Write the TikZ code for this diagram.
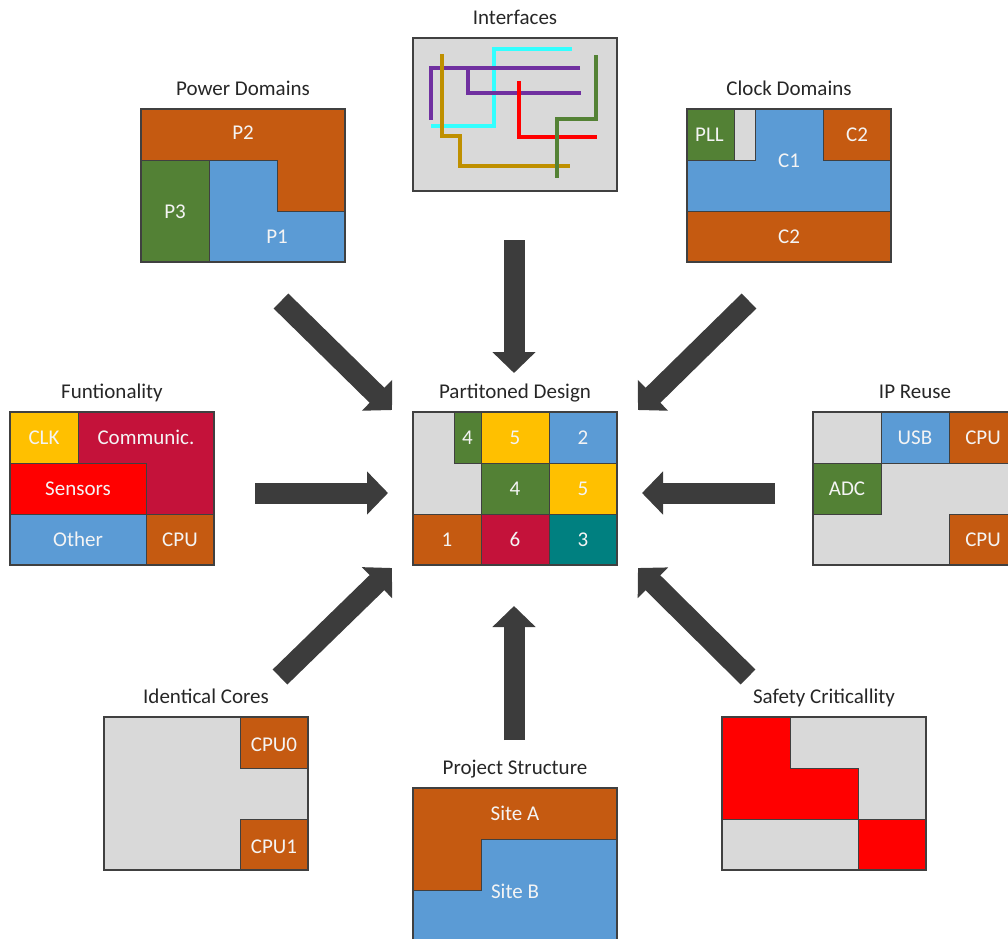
\documentclass[tikz,border=0pt]{standalone}
\usepackage{fontspec}
\setmainfont{Carlito}
\usetikzlibrary{arrows.meta}

\definecolor{cgray}{HTML}{D9D9D9}
\definecolor{corange}{HTML}{C55A11}
\definecolor{cblue}{HTML}{5B9BD5}
\definecolor{cgreen}{HTML}{538135}
\definecolor{cyellow}{HTML}{FFC000}
\definecolor{ccrimson}{HTML}{C4123A}
\definecolor{cred}{HTML}{FF0000}
\definecolor{cteal}{HTML}{008080}
\definecolor{ccyan}{HTML}{33FFFF}
\definecolor{cpurple}{HTML}{7030A0}
\definecolor{cgold}{HTML}{BF9000}
\definecolor{cdgreen}{HTML}{548235}
\definecolor{arrowgray}{HTML}{3C3C3C}
\definecolor{edgegray}{HTML}{404040}
\definecolor{titlecol}{HTML}{262626}
\definecolor{tagcol}{HTML}{F4F4F4}

\tikzset{
  region/.style={draw=edgegray, line width=0.6pt},
  panel/.style={draw=edgegray, line width=1.2pt, minimum width=204pt,
    minimum height=153pt, inner sep=0pt},
  title/.style={font=\fontsize{21}{25}\selectfont, text=titlecol, anchor=base},
  tag/.style={font=\fontsize{21}{25}\selectfont, text=tagcol},
  flow/.style={line width=21pt, draw=arrowgray,
    -{Triangle[length=21pt,width=42pt]}},
  wire/.style={line width=3.5pt, line join=miter},
  grid/.style={x=68pt, y=-51pt},
}

\begin{document}
\begin{tikzpicture}[x=1pt, y=-1pt]
\useasboundingbox (0,0) rectangle (1008,938);
\clip (0,0) rectangle (1008,938);

% ---------- Interfaces ----------
\begin{scope}[shift={(413,38)}, grid]
  \fill[cgray] (0,0) rectangle (3,3);
  \node[title] (t-if) at (1.5,-0.26) {Interfaces};
  \node[panel] (ifc) at (1.5,1.5) {};
\end{scope}
\draw[wire, ccyan]   (572,49) -- (494,49) -- (494,126) -- (431,126);
\draw[wire, cpurple] (580,68) -- (431,68) -- (431,120);
\draw[wire, cpurple] (468,68) -- (468,93) -- (581,93);
\draw[wire, cgold]   (442,54) -- (442,136) -- (460,136) -- (460,166) -- (570,166);
\draw[wire, cred]    (519,81) -- (519,137) -- (597,137);
\draw[wire, cdgreen] (596,55) -- (596,119) -- (557,119) -- (557,178);

% ---------- Power Domains ----------
\begin{scope}[shift={(141,109)}, grid]
  \filldraw[region, fill=corange] (0,0) -- (3,0) -- (3,2) -- (2,2) -- (2,1) -- (0,1) -- cycle;
  \filldraw[region, fill=cgreen] (0,1) rectangle (1,3);
  \filldraw[region, fill=cblue] (1,1) -- (2,1) -- (2,2) -- (3,2) -- (3,3) -- (1,3) -- cycle;
  \node[tag] (p2) at (1.5,0.47) {P2};
  \node[tag] (p3) at (0.5,2.02) {P3};
  \node[tag] (p1) at (2.0,2.5) {P1};
  \node[title] (t-pwr) at (1.5,-0.26) {Power Domains};
  \node[panel] (pwr) at (1.5,1.5) {};
\end{scope}

% ---------- Clock Domains ----------
\begin{scope}[shift={(687,109)}, grid]
  \filldraw[region, fill=cblue] (1,0) -- (2,0) -- (2,1) -- (3,1) -- (3,2) -- (0,2) -- (0,1) -- (1,1) -- cycle;
  \filldraw[region, fill=cgreen] (0,0) rectangle (0.7,1);
  \filldraw[region, fill=cgray] (0.7,0) rectangle (1,1);
  \filldraw[region, fill=corange] (2,0) rectangle (3,1);
  \filldraw[region, fill=corange] (0,2) rectangle (3,3);
  \node[tag] (pll) at (0.33,0.5) {PLL};
  \node[tag] (c1) at (1.5,1.02) {C1};
  \node[tag] (c2a) at (2.5,0.5) {C2};
  \node[tag] (c2b) at (1.5,2.5) {C2};
  \node[title] (t-clk) at (1.5,-0.26) {Clock Domains};
  \node[panel] (clk) at (1.5,1.5) {};
\end{scope}

% ---------- Funtionality ----------
\begin{scope}[shift={(10,412)}, grid]
  \filldraw[region, fill=cyellow] (0,0) rectangle (1,1);
  \filldraw[region, fill=ccrimson] (1,0) -- (3,0) -- (3,2) -- (2,2) -- (2,1) -- (1,1) -- cycle;
  \filldraw[region, fill=cred] (0,1) rectangle (2,2);
  \filldraw[region, fill=cblue] (0,2) rectangle (2,3);
  \filldraw[region, fill=corange] (2,2) rectangle (3,3);
  \node[tag] (fclk) at (0.5,0.5) {CLK};
  \node[tag] (fcom) at (2.0,0.5) {Communic.};
  \node[tag] (fsen) at (1.0,1.5) {Sensors};
  \node[tag] (foth) at (1.0,2.5) {Other};
  \node[tag] (fcpu) at (2.5,2.5) {CPU};
  \node[title] (t-fun) at (1.5,-0.26) {Funtionality};
  \node[panel] (fun) at (1.5,1.5) {};
\end{scope}

% ---------- Partitoned Design ----------
\begin{scope}[shift={(413,412)}, grid]
  \filldraw[region, fill=cgray] (0,0) -- (0.6,0) -- (0.6,1) -- (1,1) -- (1,2) -- (0,2) -- cycle;
  \filldraw[region, fill=cgreen] (0.6,0) rectangle (1,1);
  \filldraw[region, fill=cyellow] (1,0) rectangle (2,1);
  \filldraw[region, fill=cblue] (2,0) rectangle (3,1);
  \filldraw[region, fill=cgreen] (1,1) rectangle (2,2);
  \filldraw[region, fill=cyellow] (2,1) rectangle (3,2);
  \filldraw[region, fill=corange] (0,2) rectangle (1,3);
  \filldraw[region, fill=ccrimson] (1,2) rectangle (2,3);
  \filldraw[region, fill=cteal] (2,2) rectangle (3,3);
  \node[tag] (d4a) at (0.8,0.5) {4};
  \node[tag] (d5a) at (1.5,0.5) {5};
  \node[tag] (d2) at (2.5,0.5) {2};
  \node[tag] (d4b) at (1.5,1.5) {4};
  \node[tag] (d5b) at (2.5,1.5) {5};
  \node[tag] (d1) at (0.5,2.5) {1};
  \node[tag] (d6) at (1.5,2.5) {6};
  \node[tag] (d3) at (2.5,2.5) {3};
  \node[title] (t-part) at (1.5,-0.26) {Partitoned Design};
  \node[panel] (part) at (1.5,1.5) {};
\end{scope}

% ---------- IP Reuse ----------
\begin{scope}[shift={(813,412)}, grid]
  \fill[cgray] (0,0) rectangle (3,3);
  \filldraw[region, fill=cblue] (1,0) rectangle (2,1);
  \filldraw[region, fill=corange] (2,0) rectangle (3,1);
  \filldraw[region, fill=cgreen] (0,1) rectangle (1,2);
  \filldraw[region, fill=corange] (2,2) rectangle (3,3);
  \node[tag] (usb) at (1.5,0.5) {USB};
  \node[tag] (ipcpu1) at (2.5,0.5) {CPU};
  \node[tag] (adc) at (0.5,1.5) {ADC};
  \node[tag] (ipcpu2) at (2.5,2.5) {CPU};
  \node[title] (t-ip) at (1.5,-0.26) {IP Reuse};
  \node[panel] (ip) at (1.5,1.5) {};
\end{scope}

% ---------- Identical Cores ----------
\begin{scope}[shift={(104,717)}, grid]
  \fill[cgray] (0,0) rectangle (3,3);
  \filldraw[region, fill=corange] (2,0) rectangle (3,1);
  \filldraw[region, fill=corange] (2,2) rectangle (3,3);
  \node[tag] (cpu0) at (2.5,0.55) {CPU0};
  \node[tag] (cpu1) at (2.5,2.55) {CPU1};
  \node[title] (t-core) at (1.5,-0.26) {Identical Cores};
  \node[panel] (core) at (1.5,1.5) {};
\end{scope}

% ---------- Project Structure ----------
\begin{scope}[shift={(413,788)}, grid]
  \filldraw[region, fill=corange] (0,0) -- (3,0) -- (3,1) -- (1,1) -- (1,2) -- (0,2) -- cycle;
  \filldraw[region, fill=cblue] (1,1) -- (3,1) -- (3,3) -- (0,3) -- (0,2) -- (1,2) -- cycle;
  \node[tag] (sa) at (1.5,0.5) {Site A};
  \node[tag] (sb) at (1.5,2.02) {Site B};
  \node[title] (t-proj) at (1.5,-0.26) {Project Structure};
  \node[panel] (proj) at (1.5,1.5) {};
\end{scope}

% ---------- Safety Criticallity ----------
\begin{scope}[shift={(722,717)}, grid]
  \fill[cgray] (0,0) rectangle (3,3);
  \filldraw[region, fill=cred] (0,0) -- (1,0) -- (1,1) -- (2,1) -- (2,2) -- (0,2) -- cycle;
  \filldraw[region, fill=cred] (2,2) rectangle (3,3);
  \node[title] (t-saf) at (1.5,-0.26) {Safety Criticallity};
  \node[panel] (saf) at (1.5,1.5) {};
\end{scope}

% ---------- block arrows towards the partitioned design ----------
\coordinate (pwr-out)  at (281,301);
\coordinate (ifc-out)  at (514,240);
\coordinate (clk-out)  at (749,301);
\coordinate (fun-out)  at (255,493);
\coordinate (ip-out)   at (775,493);
\coordinate (core-out) at (280,677);
\coordinate (proj-out) at (514,740);
\coordinate (saf-out)  at (748,677);

\coordinate (part-nw) at (392,410);
\coordinate (part-n)  at (514,373);
\coordinate (part-ne) at (638,410);
\coordinate (part-w)  at (388,493);
\coordinate (part-e)  at (642,493);
\coordinate (part-sw) at (392,568);
\coordinate (part-s)  at (514,606);
\coordinate (part-se) at (638,568);

\draw[flow] (pwr-out)  -- (part-nw);
\draw[flow] (ifc-out)  -- (part-n);
\draw[flow] (clk-out)  -- (part-ne);
\draw[flow] (fun-out)  -- (part-w);
\draw[flow] (ip-out)   -- (part-e);
\draw[flow] (core-out) -- (part-sw);
\draw[flow] (proj-out) -- (part-s);
\draw[flow] (saf-out)  -- (part-se);
\end{tikzpicture}
\end{document}
